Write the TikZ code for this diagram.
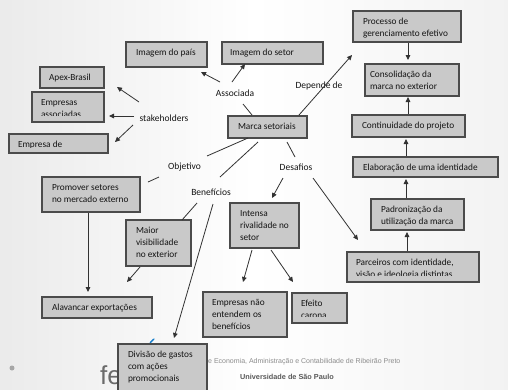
\documentclass[tikz,border=0pt]{standalone}
\usepackage{fontspec}
\setmainfont{Carlito}
\newfontfamily\footfont{Liberation Sans}
\usetikzlibrary{arrows.meta}
\definecolor{boxfill}{RGB}{201,201,201}
\definecolor{boxline}{RGB}{75,75,75}
\definecolor{linec}{RGB}{50,50,50}
\definecolor{txtc}{RGB}{20,20,20}
\tikzset{
  box/.style={draw=boxline, fill=boxfill, line width=1.2bp, inner sep=0pt, outer sep=0pt},
  boxtxt/.style={font=\fontsize{9.3bp}{12.3bp}\selectfont, text=txtc, inner sep=0pt, align=left,
    minimum width=0pt, minimum height=0pt, draw=none, fill=none},
  lbl/.style={font=\fontsize{9.5bp}{11bp}\selectfont, text=txtc, inner sep=1bp},
  arr/.style={draw=linec, line width=0.8bp, -{Triangle[length=5bp,width=4.6bp]}},
  ln/.style={draw=linec, line width=0.8bp},
}
% name, x1, y1, x2, y2, left padding, clip inset at bottom, text
\newcommand\cbox[8]{%
  \node[box, minimum width={(#4-#2)*1bp}, minimum height={(#5-#3)*1bp},
    path picture={
      \clip ([yshift=#7bp]path picture bounding box.south west) rectangle (path picture bounding box.north east);
      \node[boxtxt, anchor=north west] at ([xshift=#6bp,yshift=-4.7bp]path picture bounding box.north west) {\strut #8};
    }] (#1) at ({(#2+#4)/2},{(#3+#5)/2}) {};%
}
\begin{document}
\begin{tikzpicture}[x=1bp,y=-1bp]
\useasboundingbox (0,0) rectangle (508,389);
\shade[left color=black!8, right color=black!5, middle color=white] (0,0) rectangle (508,389);

% footer
\fill[black!35] (12,368) circle (2.5);
\node[anchor=base west, inner sep=0pt, font=\footfont\fontsize{26bp}{26bp}\selectfont, text=black!58] (fe) at (100,384) {fe};
\draw[cyan!60!blue, line width=1.4bp, line cap=round] (149,346) to[bend left=20] (154,339);
\node[anchor=west, inner sep=0pt, font=\footfont\fontsize{7bp}{8bp}\selectfont, text=black!45] (ft1) at (208,362) {e Economia, Administração e Contabilidade de Ribeirão Preto};
\node[inner sep=0pt, font=\footfont\bfseries\fontsize{7.3bp}{8bp}\selectfont, text=black!65] (ft2) at (287,377) {Universidade de São Paulo};

% boxes
\cbox{proc}{353}{11}{461}{42}{10}{0}{Processo de\\gerenciamento efetivo}
\cbox{cons}{365}{64}{459}{96}{5}{0}{Consolidação da\\marca no exterior}
\cbox{cont}{352}{115}{465}{137}{10}{0}{Continuidade do projeto}
\cbox{elab}{353}{157}{498}{177}{10}{0}{Elaboração de uma identidade}
\cbox{padr}{371}{199}{464}{230}{10}{0}{Padronização da\\utilização da marca}
\cbox{parc}{347}{252}{479}{282}{9}{6.5}{Parceiros com identidade,\\visão e ideologia distintas}
\cbox{efei}{292}{293}{347}{323}{9}{6.5}{Efeito\\carona}
\cbox{empn}{203}{292}{287}{337}{9}{0}{Empresas não\\entendem os\\benefícios}
\cbox{inte}{230}{203}{299}{248}{10}{0}{Intensa\\rivalidade no\\setor}
\cbox{maio}{126}{220}{191}{266}{10}{0}{Maior\\visibilidade\\no exterior}
\cbox{prom}{42}{177}{140}{212}{10}{0}{Promover setores\\no mercado externo}
\cbox{alav}{42}{297}{152}{318}{10}{0}{Alavancar exportações}
\cbox{divi}{118}{344}{207}{392}{10}{0}{Divisão de gastos\\com ações\\promocionais}
\cbox{empd}{9}{134}{108}{153}{9}{6}{Empresa de}
\cbox{emas}{32}{92}{104}{122}{9}{6.5}{Empresas\\associadas}
\cbox{apex}{40}{67}{104}{88}{9}{0}{Apex-Brasil}
\cbox{pais}{126}{42}{207}{67}{10}{0}{Imagem do país}
\cbox{setor}{222}{42}{323}{64}{8}{0}{Imagem do setor}
\cbox{marca}{228}{116}{307}{138}{10}{0}{Marca setoriais}

% labels
\node[lbl] (assoc) at (235,93) {Associada};
\node[lbl] (dep) at (319,86) {Depende de};
\node[lbl] (stake) at (164,118) {stakeholders};
\node[lbl] (obj) at (184.5,167) {Objetivo};
\node[lbl] (ben) at (211,192) {Benefícios};
\node[lbl] (des) at (296,167) {Desafios};

% connectors
\draw[arr] ([shift={(-15,-11)}]assoc.center) -- ([shift={(34.5,17.5)}]pais.center);
\draw[arr] ([shift={(-3,-11)}]assoc.center) -- ([shift={(-27.5,11)}]setor.center);
\draw[ln] ([shift={(8,11)}]assoc.center) -- ([shift={(-15.5,-12)}]marca.center);
\draw[arr] ([shift={(31.5,-12)}]marca.center) -- ([shift={(-55,28.5)}]proc.center);
\draw[arr] ([shift={(1,16.5)}]proc.center) -- ([shift={(-4,-20)}]cons.center);
\draw[arr] ([shift={(-0.5,-12)}]cont.center) -- ([shift={(-4,17)}]cons.center);
\draw[arr] ([shift={(-19.5,-11)}]elab.center) -- ([shift={(-2.5,13)}]cont.center);
\draw[arr] ([shift={(-11.5,-16.5)}]padr.center) -- ([shift={(-19.5,12)}]elab.center);
\draw[arr] ([shift={(-6,-16)}]parc.center) -- ([shift={(-10.5,17.5)}]padr.center);
\draw[arr] ([shift={(-25,-16)}]stake.center) -- ([shift={(45,9.5)}]apex.center);
\draw[arr] ([shift={(-30,-2)}]stake.center) -- ([shift={(41,9)}]emas.center);
\draw[arr] ([shift={(-31,7)}]stake.center) -- ([shift={(56.5,-1.5)}]empd.center);
\draw[ln] ([shift={(-19.5,11)}]marca.center) -- ([shift={(22.5,-11)}]obj.center);
\draw[ln] ([shift={(-25.5,10)}]obj.center) -- ([shift={(57,-12.5)}]prom.center);
\draw[ln] ([shift={(-9.5,15)}]marca.center) -- ([shift={(9,-15)}]ben.center);
\draw[ln] ([shift={(19.5,15)}]marca.center) -- ([shift={(-1,-10)}]des.center);
\draw[arr] ([shift={(-13,11)}]des.center) -- ([shift={(7.5,-27.5)}]inte.center);
\draw[arr] ([shift={(17,11)}]des.center) -- ([shift={(-55,-27)}]parc.center);
\draw[ln] ([shift={(-14,11)}]ben.center) -- ([shift={(23.5,-23)}]maio.center);
\draw[arr] ([shift={(2,12)}]ben.center) -- ([shift={(11.5,-30)}]divi.center);
\draw[arr] ([shift={(-18.5,24)}]maio.center) -- ([shift={(30,-25.5)}]alav.center);
\draw[arr] ([shift={(-3,18.5)}]prom.center) -- ([shift={(-9,-15.5)}]alav.center);
\draw[arr] ([shift={(-12.5,24.5)}]inte.center) -- ([shift={(-2,-32.5)}]empn.center);
\draw[arr] ([shift={(6.5,24.5)}]inte.center) -- ([shift={(-26.5,-26)}]efei.center);
\end{tikzpicture}
\end{document}
